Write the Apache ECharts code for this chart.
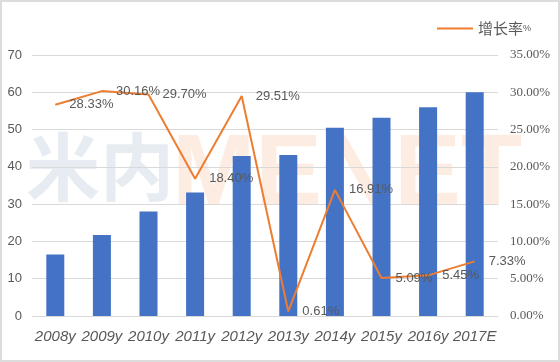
<!DOCTYPE html>
<html><head><meta charset="utf-8">
<script src="https://cdn.jsdelivr.net/npm/echarts@6/dist/echarts.min.js"></script>
<style>html,body{margin:0;padding:0;background:#fff}#c{width:560px;height:362px;box-sizing:border-box;border:2px solid #dcdcdc}</style>
</head><body><div id="c"></div>
<script>
var categories = ['2008y','2009y','2010y','2011y','2012y','2013y','2014y','2015y','2016y','2017E'];
var barValues = [16.5, 21.7, 28.0, 33.1, 42.9, 43.2, 50.5, 53.2, 56.0, 60.0];
var growthRates = [28.33, 30.16, 29.70, 18.40, 29.51, 0.61, 16.91, 5.09, 5.45, 7.33];
var leftTicks = {min: 0, max: 70, interval: 10};
var rightTicks = {min: 0, max: 35, interval: 5};

var chart = echarts.init(document.getElementById('c'));
chart.setOption({
  animation: false,
  graphic: [
    {type: 'text', left: 24, top: 128, z: -10, silent: true,
     style: {text: '米内', font: 'bold 74px "Noto Sans CJK SC"', fill: 'rgba(200,212,225,0.45)'}},
    {type: 'text', left: 170, top: 124, z: -10, silent: true,
     style: {text: 'MENET', font: 'bold 100px "Liberation Sans Narrow", "Liberation Sans"', fill: 'rgba(250,200,170,0.35)'}}
  ],
  legend: {
    right: 22, top: 14, itemWidth: 36, itemHeight: 2, itemGap: 6,
    data: [{name: '增长率%', icon: 'rect', itemStyle: {color: '#ED7D31', opacity: 1}}],
    formatter: function(){ return '{a|增长率}{b|%}'; },
    textStyle: {rich: {a: {fontSize: 15, color: '#595959', fontFamily: 'Noto Sans CJK SC'}, b: {fontSize: 9, color: '#595959'}}}
  },
  grid: {left: 30, right: 60, top: 53, bottom: 44},
  xAxis: {
    type: 'category', data: categories,
    axisLine: {show: true, lineStyle: {color: '#d9d9d9'}},
    axisTick: {show: false},
    axisLabel: {interval: 0, color: '#595959', fontSize: 15, fontStyle: 'italic', margin: 13, fontFamily: 'Liberation Sans'}
  },
  yAxis: [
    {type: 'value', min: leftTicks.min, max: leftTicks.max, interval: leftTicks.interval,
     axisLine: {show: false}, axisTick: {show: false},
     splitLine: {lineStyle: {color: '#d9d9d9'}},
     axisLabel: {color: '#595959', fontSize: 13, margin: 10, fontFamily: 'Liberation Sans'}},
    {type: 'value', min: rightTicks.min, max: rightTicks.max, interval: rightTicks.interval,
     axisLine: {show: false}, axisTick: {show: false}, splitLine: {show: false},
     axisLabel: {color: '#595959', fontSize: 12, margin: 12, fontFamily: 'Liberation Sans Narrow', fontSize: 13,
       formatter: function(v){ return v.toFixed(2) + '%'; }}}
  ],
  series: [
    {name: '数量', type: 'bar', data: barValues, barWidth: 18, itemStyle: {color: '#4472C4'}, z: 2},
    {name: '增长率%', type: 'line', yAxisIndex: 1, data: growthRates,
     symbol: 'circle', symbolSize: 0.1, showSymbol: true,
     lineStyle: {color: '#ED7D31', width: 2}, itemStyle: {color: '#ED7D31'}, z: 3,
     label: {show: true, position: 'right', distance: 14, color: '#595959', fontSize: 13, fontFamily: 'Liberation Sans',
       formatter: function(p){ return p.value.toFixed(2) + '%'; }}}
  ]
});
</script></body></html>
